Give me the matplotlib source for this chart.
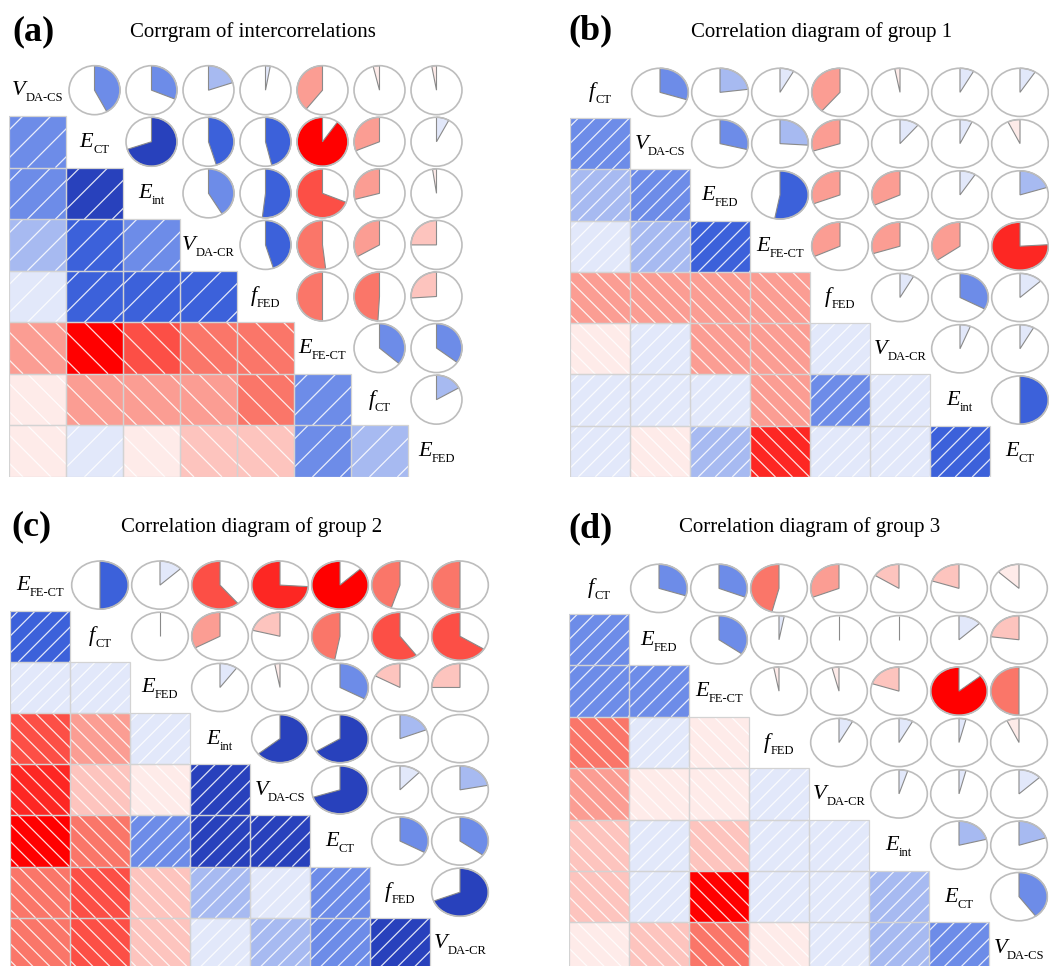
import numpy as np
import matplotlib
matplotlib.use("Agg")
import matplotlib.pyplot as plt
from matplotlib.patches import Rectangle, Ellipse, Polygon
from matplotlib.collections import LineCollection
from matplotlib import transforms

plt.rcParams['font.family'] = ['Liberation Serif', 'DejaVu Serif']

W, H, DPI = 1049, 966, 100

# --- data: variable order and upper-triangle correlations for each panel ---
vars_a = [("V", "DA-CS"), ("E", "CT"), ("E", "int"), ("V", "DA-CR"),
          ("f", "FED"), ("E", "FE-CT"), ("f", "CT"), ("E", "FED")]
corr_a = [[0.42, 0.31, 0.20, 0.03, -0.39, -0.04, -0.03],
          [0.70, 0.45, 0.46, -0.90, -0.31, 0.08],
          [0.41, 0.52, -0.69, -0.29, -0.025],
          [0.45, -0.52, -0.33, -0.25],
          [-0.50, -0.49, -0.26],
          [0.36, 0.35],
          [0.17]]

vars_b = [("f", "CT"), ("V", "DA-CS"), ("E", "FED"), ("E", "FE-CT"),
          ("f", "FED"), ("V", "DA-CR"), ("E", "int"), ("E", "CT")]
corr_b = [[0.30, 0.23, 0.08, -0.39, -0.03, 0.08, 0.09],
          [0.29, 0.26, -0.30, 0.11, 0.07, -0.07],
          [0.53, -0.31, -0.32, 0.09, 0.20],
          [-0.32, -0.30, -0.35, -0.76],
          [0.08, 0.33, 0.13],
          [0.06, 0.08],
          [0.50]]

vars_c = [("E", "FE-CT"), ("f", "CT"), ("E", "FED"), ("E", "int"),
          ("V", "DA-CS"), ("E", "CT"), ("f", "FED"), ("V", "DA-CR")]
corr_c = [[0.50, 0.13, -0.61, -0.74, -0.87, -0.45, -0.50],
          [0.01, -0.33, -0.21, -0.47, -0.60, -0.66],
          [0.10, -0.03, 0.33, -0.17, -0.25],
          [0.64, 0.66, 0.19, 0.004],
          [0.70, 0.12, 0.22],
          [0.33, 0.35],
          [0.69]]

vars_d = [("f", "CT"), ("E", "FED"), ("E", "FE-CT"), ("f", "FED"),
          ("V", "DA-CR"), ("E", "int"), ("E", "CT"), ("V", "DA-CS")]
corr_d = [[0.30, 0.31, -0.46, -0.31, -0.16, -0.20, -0.13],
          [0.35, 0.03, -0.01, 0.02, 0.13, -0.23],
          [-0.03, -0.04, -0.20, -0.86, -0.50],
          [0.08, 0.08, 0.04, -0.07],
          [0.05, 0.04, 0.13],
          [0.21, 0.20],
          [0.40]]

panel_tags = ["(a)", "(b)", "(c)", "(d)"]
panel_titles = ["Corrgram of intercorrelations", "Correlation diagram of group 1",
                "Correlation diagram of group 2", "Correlation diagram of group 3"]

# corrgram palette: red - salmon - white - royalblue - navy, 14 steps
anchors = np.array([[255, 0, 0], [250, 128, 114], [255, 255, 255],
                    [65, 105, 225], [0, 0, 128]]) / 255.0
steps = np.linspace(0, 1, 14)
pal = np.column_stack([np.interp(steps, np.linspace(0, 1, 5), anchors[:, c]) for c in range(3)])


def col_of(r):
    k = int(np.ceil((r + 1) / (2 / 14))) - 1
    return pal[min(max(k, 0), 13)]


def full_matrix(upper):
    n = len(upper) + 1
    m = np.eye(n)
    for i, row in enumerate(upper):
        for k, v in enumerate(row):
            m[i, i + 1 + k] = v
            m[i + 1 + k, i] = v
    return m


fig = plt.figure(figsize=(W / DPI, H / DPI), dpi=DPI)
labels = []


def draw_panel(box, names, upper, hatch_px, rx, ry):
    left, top, right, bottom = box   # in pixels, y from top
    ax = fig.add_axes([left / W, 1 - bottom / H, (right - left) / W, (bottom - top) / H])
    n = len(names)
    ax.set_xlim(0, n)
    ax.set_ylim(n, 0)
    ax.axis('off')
    cw = (right - left) / n
    ch = (bottom - top) / n
    m = full_matrix(upper)

    for i in range(n):
        for j in range(n):
            r = m[i, j]
            if i > j:
                # shaded square with white diagonal lines
                rect = Rectangle((j, i), 1, 1, facecolor=col_of(r), edgecolor='none', zorder=1)
                ax.add_patch(rect)
                segs = []
                for c in np.arange(-ch - hatch_px / 2, cw + ch, hatch_px):
                    if r > 0:
                        u0, u1 = c, c + ch
                    else:
                        u0, u1 = c + ch, c
                    segs.append([(j + u0 / cw, i + 1), (j + u1 / cw, i)])
                lc = LineCollection(segs, colors='white', linewidths=0.9, alpha=0.85, zorder=2)
                ax.add_collection(lc)
                lc.set_clip_path(rect)
                ax.add_patch(Rectangle((j, i), 1, 1, fill=False, edgecolor='#D3D3D3',
                                       lw=0.9, zorder=3))
            elif i < j:
                # pie: clockwise for positive, counter-clockwise for negative
                cx, cy = j + 0.5, i + 0.5
                nseg = int(round(60 * abs(r)))
                if nseg > 0:
                    ang = np.linspace(np.pi / 2, np.pi / 2 - 2 * np.pi * r, nseg)
                    pts = [(cx, cy)] + [(cx + rx * np.cos(a), cy - ry * np.sin(a)) for a in ang] + [(cx, cy)]
                    ax.add_patch(Polygon(pts, closed=True, facecolor=col_of(r),
                                         edgecolor='#8a8a8a', lw=0.8, zorder=2))
                ax.add_patch(Ellipse((cx, cy), 2 * rx, 2 * ry, fill=False,
                                     edgecolor='#bdbdbd', lw=1.2, zorder=3))
            else:
                main, sub = names[i]
                t1 = ax.text(j + 0.5, i + 0.5, main, fontsize=16, style='italic',
                             ha='left', va='baseline')
                t2 = ax.text(j + 0.5, i + 0.5, sub, fontsize=9, ha='left', va='baseline')
                labels.append((ax, t1, t2))
    return ax


# panel boxes in pixels: left, top, right, bottom
draw_panel((9, 64.4, 465, 477), vars_a, corr_a, 28, 0.447, 0.475)
draw_panel((570, 66.7, 1050, 477), vars_b, corr_b, 17, 0.472, 0.47)
draw_panel((10, 559.5, 490, 969), vars_c, corr_c, 17, 0.472, 0.47)
draw_panel((569, 562.7, 1049, 973.7), vars_d, corr_d, 17, 0.472, 0.47)

# centre each italic letter + subscript pair in its diagonal cell
renderer = fig.canvas.get_renderer()
for ax, t1, t2 in labels:
    w1 = t1.get_window_extent(renderer).width
    w2 = t2.get_window_extent(renderer).width
    x0 = -(w1 + w2) / 2
    t1.set_transform(transforms.offset_copy(ax.transData, fig=fig, x=x0, y=-5, units='dots'))
    t2.set_transform(transforms.offset_copy(ax.transData, fig=fig, x=x0 + w1, y=-11, units='dots'))

# panel tags and titles
tag_pos = [(33, 32), (590, 31), (31, 527), (591, 529)]
title_pos = [(253, 32), (822, 32), (252, 527), (810, 527)]
for tag, (x, y) in zip(panel_tags, tag_pos):
    fig.text(x / W, 1 - y / H, tag, fontsize=26, fontweight='bold', ha='center', va='center')
for title, (x, y) in zip(panel_titles, title_pos):
    fig.text(x / W, 1 - y / H, title, fontsize=15, ha='center', va='center')

fig.savefig("out.png", dpi=DPI)
